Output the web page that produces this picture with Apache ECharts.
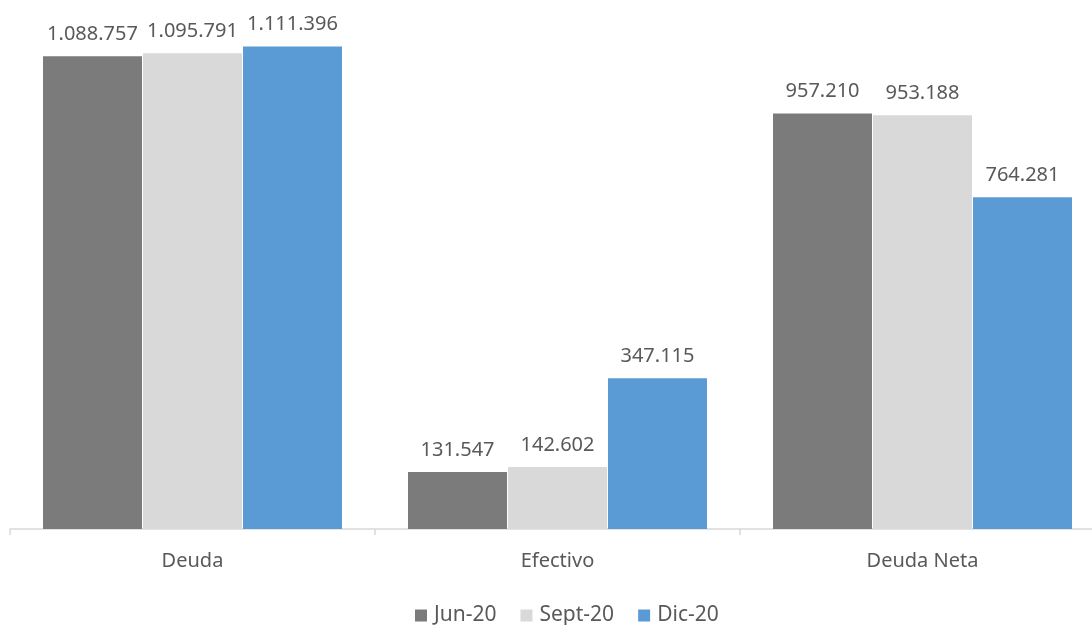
<!DOCTYPE html>
<html>
<head>
<meta charset="utf-8">
<script src="https://cdn.jsdelivr.net/npm/echarts@6/dist/echarts.min.js"></script>
<style>html,body{margin:0;padding:0;background:#fff}#c{width:1092px;height:625px}</style>
</head>
<body>
<div id="c"></div>
<script>
const categories = ['Deuda', 'Efectivo', 'Deuda Neta'];
const seriesNames = ['Jun-20', 'Sept-20', 'Dic-20'];
const jun20 = [1088757, 131547, 957210];
const sept20 = [1095791, 142602, 953188];
const dic20 = [1111396, 347115, 764281];
const colors = ['#7b7b7b', '#d9d9d9', '#5b9bd5'];

function fmt(v) {
  return String(v).replace(/\B(?=(\d{3})+(?!\d))/g, '.');
}

const chart = echarts.init(document.getElementById('c'));
const font = 'Noto Sans';
const mk = (name, data, color) => ({
  name, type: 'bar', data, barWidth: 99, barGap: '1%',
  itemStyle: { color },
  label: { show: true, position: 'top', distance: 12, color: '#595959', fontSize: 20, fontFamily: font, formatter: p => fmt(p.value) }
});
chart.setOption({
  animation: false,
  textStyle: { fontFamily: font },
  grid: { left: 10, width: 1095, top: 8, bottom: 96, containLabel: false, outerBoundsMode: 'none' },
  legend: {
    top: 600, left: 410, itemWidth: 12, itemHeight: 12, itemGap: 24, icon: 'rect',
    textStyle: { color: '#595959', fontSize: 21, fontFamily: font, padding: [0, 0, 0, 2] },
    data: seriesNames
  },
  xAxis: {
    type: 'category', data: categories,
    axisLine: { lineStyle: { color: '#d9d9d9', width: 1.5 } },
    axisTick: { show: true, length: 6, lineStyle: { color: '#d9d9d9', width: 1.5 } },
    axisLabel: { color: '#595959', fontSize: 20, fontFamily: font, margin: 22 }
  },
  yAxis: { type: 'value', min: 0, max: 1200000, show: false, splitLine: { show: false } },
  series: [mk(seriesNames[0], jun20, colors[0]), mk(seriesNames[1], sept20, colors[1]), mk(seriesNames[2], dic20, colors[2])]
});
</script>
</body>
</html>
